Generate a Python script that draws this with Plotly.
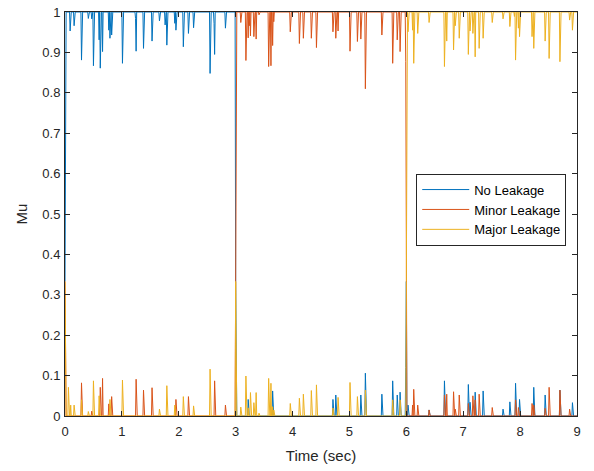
import numpy as np
import plotly.graph_objects as go

# ---- data ----
dt = 0.01
t_end = 9.0
reset_times = [0.0, 3.0, 6.0]      # filter restarts, all probabilities 1/3
reset_value = 0.333

series_names = ["No Leakage", "Minor Leakage", "Major Leakage"]
series_colors = ["#0072BD", "#D95319", "#EDB120"]
active_segments = [(0.0, 3.0), (3.0, 6.0), (6.0, 9.0)]   # where each Mu sits at 1

# spikes (time, value) for each series
blue_spikes = [
    (0.09, 0.953), (0.16, 0.966), (0.29, 0.881), (0.41, 0.984), (0.47, 0.983),
    (0.50, 0.867), (0.60, 0.931), (0.62, 0.861), (0.66, 0.902), (0.77, 0.955),
    (0.79, 0.935), (0.82, 0.943), (1.01, 0.873), (1.24, 0.984), (1.25, 0.903),
    (1.38, 0.910), (1.53, 0.928), (1.66, 0.978), (1.76, 0.968), (1.79, 0.918),
    (1.93, 0.972), (1.95, 0.955), (2.08, 0.914), (2.17, 0.947), (2.26, 0.961),
    (2.55, 0.848), (2.62, 0.972), (2.63, 0.895), (2.82, 0.960),
    (3.22, 0.041), (3.65, 0.062), (4.71, 0.041), (4.76, 0.052), (5.20, 0.052),
    (5.28, 0.106), (5.57, 0.054), (5.76, 0.087), (5.84, 0.052), (5.89, 0.059),
    (5.99, 0.120),
    (6.03, 0.027), (6.40, 0.015), (6.67, 0.087), (7.09, 0.078), (7.12, 0.034),
    (7.21, 0.059), (7.35, 0.062), (7.70, 0.017), (7.82, 0.035), (7.92, 0.081),
    (7.99, 0.041), (8.24, 0.071), (8.44, 0.052), (8.70, 0.064), (8.92, 0.033),
]
orange_spikes = [
    (0.29, 0.082), (0.47, 0.012), (0.62, 0.071), (0.66, 0.093), (0.77, 0.030),
    (0.82, 0.048), (1.25, 0.091), (1.38, 0.064), (1.53, 0.070), (1.95, 0.041),
    (2.17, 0.048), (2.63, 0.087), (2.82, 0.027),
    (3.09, 0.974), (3.18, 0.880), (3.22, 0.936), (3.24, 0.966), (3.26, 0.941),
    (3.32, 0.939), (3.36, 0.933), (3.41, 0.993), (3.58, 0.865), (3.62, 0.867),
    (3.65, 0.917), (3.67, 0.976), (3.96, 0.951), (4.12, 0.922), (4.19, 0.935),
    (4.33, 0.935), (4.42, 0.912), (4.71, 0.951), (4.76, 0.935), (4.80, 0.953),
    (5.01, 0.903), (5.14, 0.927), (5.20, 0.933), (5.28, 0.810), (5.57, 0.943),
    (5.76, 0.873), (5.84, 0.931), (5.89, 0.902), (5.99, 0.877),
    (6.11, 0.027), (6.13, 0.066), (6.20, 0.027), (6.40, 0.015), (6.67, 0.052),
    (6.71, 0.054), (6.83, 0.060), (6.86, 0.017), (6.93, 0.052), (7.09, 0.031),
    (7.17, 0.050), (7.21, 0.040), (7.28, 0.054), (7.51, 0.021), (7.92, 0.040),
    (7.97, 0.021), (8.21, 0.031), (8.24, 0.027), (8.44, 0.019), (8.51, 0.071),
    (8.70, 0.064), (8.87, 0.017),
]
yellow_spikes = [
    (0.06, 0.071), (0.10, 0.027), (0.16, 0.027), (0.29, 0.040), (0.41, 0.011),
    (0.50, 0.087), (0.60, 0.050), (0.79, 0.041), (1.01, 0.089), (1.66, 0.017),
    (1.79, 0.075), (1.93, 0.027), (2.08, 0.048), (2.26, 0.025), (2.55, 0.116),
    (3.09, 0.022), (3.18, 0.099), (3.22, 0.020), (3.26, 0.058), (3.32, 0.033),
    (3.36, 0.058), (3.41, 0.007), (3.58, 0.093), (3.62, 0.081), (3.65, 0.023),
    (3.67, 0.015), (3.96, 0.031), (4.12, 0.044), (4.19, 0.054), (4.33, 0.063),
    (4.42, 0.077), (4.71, 0.020), (4.80, 0.046), (5.01, 0.083), (5.14, 0.048),
    (5.28, 0.064), (5.76, 0.040), (5.89, 0.040),
    (6.03, 0.951), (6.11, 0.955), (6.13, 0.873), (6.20, 0.947), (6.40, 0.974),
    (6.67, 0.865), (6.71, 0.928), (6.83, 0.906), (6.86, 0.966), (6.93, 0.935),
    (7.09, 0.895), (7.12, 0.953), (7.17, 0.947), (7.21, 0.889), (7.28, 0.910),
    (7.35, 0.935), (7.51, 0.974), (7.70, 0.983), (7.82, 0.964), (7.90, 0.989),
    (7.92, 0.881), (7.97, 0.960), (7.99, 0.939), (8.21, 0.939), (8.24, 0.910),
    (8.44, 0.928), (8.51, 0.885), (8.70, 0.877), (8.87, 0.980), (8.92, 0.955),
]
all_spikes = [blue_spikes, orange_spikes, yellow_spikes]

# ---- build sampled series ----
n = int(round(t_end / dt)) + 1
time = np.round(np.arange(n) * dt, 2)


def build(segment, spikes):
    y = np.where((time >= segment[0]) & (time < segment[1]), 1.0, 0.0)
    if segment[1] >= t_end:
        y[time >= segment[0]] = 1.0
    for tr in reset_times:
        y[int(round(tr / dt))] = reset_value
    for ts, v in spikes:
        y[int(round(ts / dt))] = v
    return y


fig = go.Figure()
for name, color, seg, spk in zip(series_names, series_colors, active_segments, all_spikes):
    fig.add_trace(go.Scatter(
        x=time, y=build(seg, spk), mode="lines", name=name,
        line=dict(color=color, width=1),
    ))

axis_color = "#262626"
fig.update_layout(
    width=594, height=471,
    margin=dict(l=65, r=17, t=12, b=55, autoexpand=False),
    paper_bgcolor="white", plot_bgcolor="white",
    font=dict(family="Liberation Sans, Arial, sans-serif", size=13, color=axis_color),
    showlegend=True,
    legend=dict(
        x=0.686, y=0.600, xanchor="left", yanchor="top",
        bgcolor="white", bordercolor=axis_color, borderwidth=1,
        font=dict(size=13, color="black"), tracegroupgap=0, itemwidth=47,
    ),
    xaxis=dict(
        range=[0, 9], dtick=1, tick0=0, ticks="inside", ticklen=5,
        tickcolor=axis_color, showline=True, linecolor=axis_color, linewidth=1,
        mirror="ticks", showgrid=False, zeroline=False, ticklabelstandoff=3,
        ticklabeloverflow="allow",
        title=dict(text="Time (sec)", font=dict(size=15), standoff=12),
        tickfont=dict(size=13),
    ),
    yaxis=dict(
        range=[0, 1], dtick=0.1, tick0=0, ticks="inside", ticklen=5,
        tickcolor=axis_color, showline=True, linecolor=axis_color, linewidth=1,
        mirror="ticks", showgrid=False, zeroline=False, ticklabelstandoff=1,
        ticklabeloverflow="allow",
        title=dict(text="Mu", font=dict(size=15), standoff=11),
        tickfont=dict(size=13),
    ),
)

# remove the default 8px page margin so the figure sits at the window's corner
fig.write_html("out.html", config={"displayModeBar": False},
               post_script="document.body.style.margin='0';")
